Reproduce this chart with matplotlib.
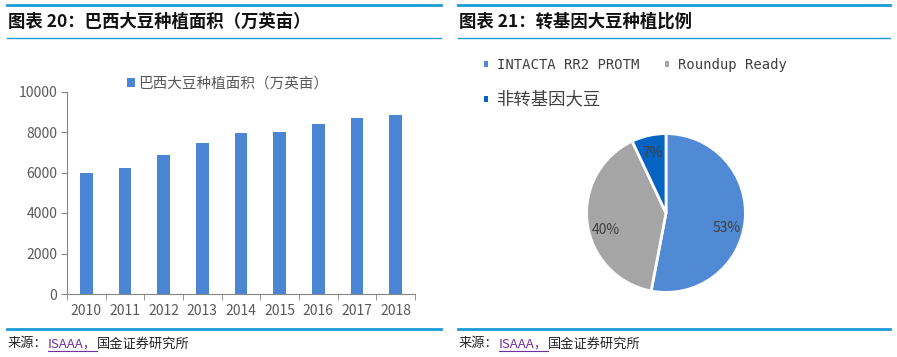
import matplotlib.pyplot as plt
from matplotlib.patches import Patch
from matplotlib.lines import Line2D

plt.rcParams['font.family'] = ['Noto Sans CJK SC', 'DejaVu Sans']

# data
years = ['2010', '2011', '2012', '2013', '2014', '2015', '2016', '2017', '2018']
area = [5990, 6200, 6850, 7470, 7930, 7980, 8390, 8700, 8850]
bar_label = '巴西大豆种植面积（万英亩）'

pie_labels = ['INTACTA RR2 PROTM', 'Roundup Ready', '非转基因大豆']
pie_share = [53, 40, 7]

title_left = '图表 20：巴西大豆种植面积（万英亩）'
title_right = '图表 21：转基因大豆种植比例'

W, H = 897, 357
fig = plt.figure(figsize=(W / 100, H / 100), dpi=100)


def fx(x):
    return x / W


def fy(y):
    return 1 - y / H


def hline(x0, x1, y, lw):
    fig.add_artist(Line2D([fx(x0), fx(x1)], [fy(y), fy(y)], transform=fig.transFigure,
                          color='#1A9AD6', lw=lw))


# header / footer rules
for x0, x1 in [(7, 441), (458, 890)]:
    hline(x0, x1, 5, 2)
    hline(x0, x1, 38, 1)
    hline(x0, x1, 329, 2)

fig.text(fx(8), fy(22), title_left, fontsize=12.5, fontweight='bold', va='center', color='#111111')
fig.text(fx(459), fy(22), title_right, fontsize=12.5, fontweight='bold', va='center', color='#111111')

# source line
fig.canvas.draw()
rend = fig.canvas.get_renderer()
for x0 in [8, 459]:
    t1 = fig.text(fx(x0), fy(344), '来源：', fontsize=9.5, va='center', color='#222222')
    bb = t1.get_window_extent(rend)
    t2 = fig.text(bb.x1 / W, fy(344), 'ISAAA，', fontsize=9.5, va='center', color='#7030A0')
    bb2 = t2.get_window_extent(rend)
    fig.add_artist(Line2D([bb2.x0 / W, bb2.x1 / W], [fy(351), fy(351)], transform=fig.transFigure,
                          color='#7030A0', lw=0.8))
    fig.text(bb2.x1 / W, fy(344), '国金证券研究所', fontsize=9.5, va='center', color='#222222')

# bar chart
ax = fig.add_axes([fx(67), fy(294), fx(415) - fx(67), fy(91.5) - fy(294)])
ax.bar(range(len(years)), area, width=0.32, color='#4A86D3', label=bar_label)
ax.set_xlim(-0.5, len(years) - 0.5)
ax.set_ylim(0, 10000)
ax.set_yticks(range(0, 10001, 2000))
ax.set_xticks(range(len(years)))
ax.set_xticklabels(years)
ax.set_xticks([i - 0.5 for i in range(len(years) + 1)], minor=True)
ax.tick_params(axis='x', which='major', length=0, pad=7, labelsize=10, labelcolor='#595959')
ax.tick_params(axis='x', which='minor', length=4, color='#868686', direction='out')
ax.tick_params(axis='y', length=4, color='#868686', labelsize=10, labelcolor='#595959', pad=3)
for s in ['top', 'right']:
    ax.spines[s].set_visible(False)
for s in ['left', 'bottom']:
    ax.spines[s].set_color('#868686')
    ax.spines[s].set_linewidth(0.8)
ax.legend(loc='center left', bbox_to_anchor=(fx(127), fy(84)), bbox_transform=fig.transFigure,
          frameon=False, fontsize=10.5, handlelength=0.55, handleheight=0.55, handletextpad=0.2,
          borderpad=0, borderaxespad=0, labelcolor='#595959')

# pie chart
pie_colors = ['#5089D4', '#A5A5A5', '#0563C1']
r = 81
pax = fig.add_axes([fx(666 - r), fy(213 + r), 2 * r / W, 2 * r / H])
wedges, _, autotexts = pax.pie(pie_share, colors=pie_colors, startangle=90, counterclock=False,
                               autopct='%.0f%%', pctdistance=0.77,
                               wedgeprops=dict(edgecolor='white', linewidth=2),
                               textprops=dict(fontsize=10, color='#404040'))
# Excel puts the two big labels a bit lower
for t in autotexts[:2]:
    x, y = t.get_position()
    t.set_position((x, y - 0.12))
pax.set_xlim(-1.02, 1.02)
pax.set_ylim(-1.02, 1.02)
pax.set_aspect('equal')
pax.axis('off')

handles = [Patch(facecolor=c, edgecolor='none') for c in pie_colors]
order = [0, 2, 1]
leg = fig.legend([handles[i] for i in order], [pie_labels[i] for i in order],
                 loc='upper left', bbox_to_anchor=(fx(484), fy(58)), ncol=2, frameon=False,
                 fontsize=10, handlelength=0.3, handleheight=0.3, handletextpad=0.6,
                 columnspacing=1.9, labelspacing=1.3, borderpad=0, borderaxespad=0)
for i, t in zip(order, leg.get_texts()):
    t.set_color('#404040')
    if i < 2:
        t.set_fontfamily('DejaVu Sans Mono')
    else:
        t.set_fontsize(12.5)

fig.savefig('out.png', dpi=100)
